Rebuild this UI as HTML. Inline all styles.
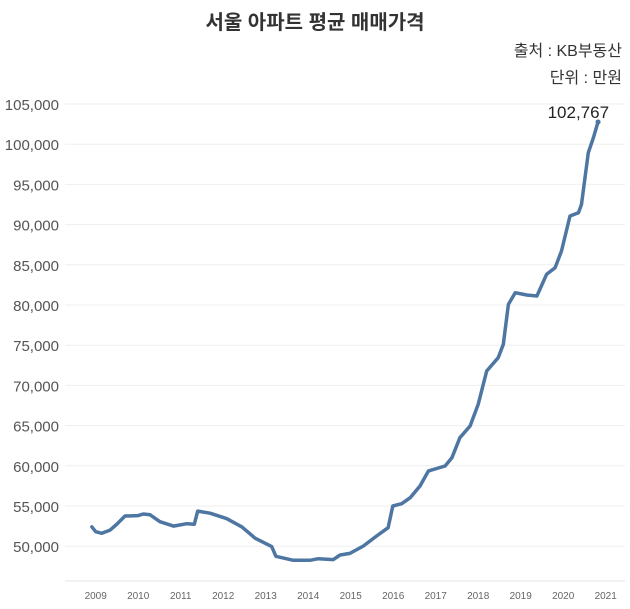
<!DOCTYPE html>
<html><head><meta charset="utf-8">
<style>
body{margin:0;background:#fff;}
svg{display:block;font-family:"Liberation Sans","Noto Sans CJK KR",sans-serif;}
</style></head>
<body>
<svg id="chart" width="630" height="609">
<text x="315" y="29" text-anchor="middle" font-size="20" font-weight="bold" fill="#333">서울 아파트 평균 매매가격</text>
<text x="622" y="56" text-anchor="end" font-size="16" fill="#333">출처 : KB부동산</text>
<text x="622" y="83" text-anchor="end" font-size="16" fill="#333">단위 : 만원</text>
<g id="grid"></g><g id="yaxis"></g><g id="xaxis"></g><g id="series"></g>
</svg>
<script>
const years = [2009,2010,2011,2012,2013,2014,2015,2016,2017,2018,2019,2020,2021];
const yTicks = [50000,55000,60000,65000,70000,75000,80000,85000,90000,95000,100000,105000];
const times = [2008.91,2009.0,2009.14,2009.34,2009.49,2009.69,2010.0,2010.12,2010.28,2010.51,2010.83,2011.14,2011.32,2011.40,2011.69,2012.08,2012.44,2012.75,2013.14,2013.24,2013.38,2013.65,2014.04,2014.24,2014.59,2014.75,2014.98,2015.30,2015.61,2015.88,2015.99,2016.2,2016.40,2016.63,2016.83,2017.22,2017.38,2017.57,2017.81,2018.0,2018.20,2018.47,2018.59,2018.71,2018.87,2019.14,2019.38,2019.61,2019.81,2019.96,2020.16,2020.36,2020.43,2020.59,2020.71,2020.82];
const prices = [52400,51800,51600,52000,52700,53760,53800,54000,53900,53050,52500,52800,52720,54370,54100,53430,52400,50990,49950,48750,48570,48250,48250,48450,48330,48900,49100,50030,51270,52300,55000,55280,56030,57490,59360,59980,61000,63500,64950,67650,71790,73440,75100,80080,81530,81240,81120,83820,84640,86720,91070,91480,92520,98940,100810,102767];
const lastLabel = "102,767";

const NS="http://www.w3.org/2000/svg";
const xS = t => 95.7 + (t-2009)*42.5;
const yS = v => 104 + (105000-v)/5000*40.2;
function mk(tag, attrs, parent){const e=document.createElementNS(NS,tag);for(const k in attrs)e.setAttribute(k,attrs[k]);parent.appendChild(e);return e;}
const grid=document.getElementById('grid'), ya=document.getElementById('yaxis'), xa=document.getElementById('xaxis'), se=document.getElementById('series');
yTicks.forEach(v=>{
  const l=mk('line',{x1:65,x2:625,y1:yS(v),y2:yS(v),stroke:'#efefef','stroke-width':1},grid);
  
  
  const t=mk('text',{x:59,y:yS(v)+6,'text-anchor':'end','font-size':15,fill:'#555'},ya);
  t.textContent=v.toLocaleString('en-US');
  
  
});
const ax=mk('line',{x1:65,x2:625,y1:581,y2:581,stroke:'#e6e6e6','stroke-width':1},grid);


years.forEach(y=>{
  const t=mk('text',{x:xS(y),y:599,'text-anchor':'middle','font-size':10,fill:'#666'},xa);
  t.textContent=y;
  
  
});
const d=times.map((t,i)=>(i?'L':'M')+xS(t).toFixed(1)+','+yS(prices[i]).toFixed(1)).join(' ');
const p=mk('path',{d:d,fill:'none',stroke:'#4e76a2','stroke-width':3.5,'stroke-linejoin':'round','stroke-linecap':'round'},se);


const n=times.length-1;
const c=mk('circle',{cx:xS(times[n]),cy:yS(prices[n]),r:2.5,fill:'#4e76a2'},se);


const lt=mk('text',{x:xS(times[n])+11,y:yS(prices[n])-4,'text-anchor':'end','font-size':17,fill:'#222'},se);
lt.textContent=lastLabel;


</script>
</body></html>
